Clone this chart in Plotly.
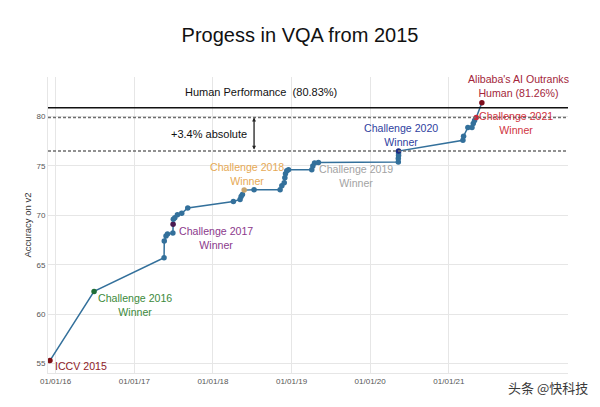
import plotly.graph_objects as go

# ---- data ----
dates = [
    "2015-12-06", "2016-06-28",
    "2017-05-19", "2017-05-20", "2017-05-28", "2017-06-04", "2017-06-29", "2017-06-30",
    "2017-07-01", "2017-07-08", "2017-07-20", "2017-08-09", "2017-09-06",
    "2018-04-06", "2018-05-07", "2018-05-12", "2018-05-18", "2018-05-26", "2018-07-11",
    "2018-11-09", "2018-11-17", "2018-11-28", "2018-12-01", "2018-12-04", "2018-12-10",
    "2018-12-18", "2019-04-05", "2019-04-10", "2019-04-18", "2019-05-06",
    "2020-05-11", "2020-05-11", "2020-05-12", "2020-05-12", "2020-05-12",
    "2021-03-07", "2021-03-10", "2021-03-30", "2021-04-18", "2021-04-24", "2021-04-30",
    "2021-05-08", "2021-06-03",
]
accuracy = [
    55.3, 62.3,
    65.7, 67.4, 67.9, 68.1, 68.2, 69.1,
    69.6, 69.75, 70.05, 70.2, 70.75,
    71.4, 71.6, 71.9, 72.1, 72.55, 72.6,
    72.6, 73.0, 73.3, 73.8, 74.2, 74.5,
    74.6, 74.6, 75.0, 75.3, 75.35,
    75.4, 75.75, 76.05, 76.3, 76.5,
    77.6, 78.0, 78.9, 78.9, 79.3, 79.6,
    79.9, 81.4,
]

# milestone labels: (index into the series, label text, point colour, text colour)
milestone_index = [0, 1, 7, 17, 29, 34, 41, 42]
milestone_text = [
    "ICCV 2015", "Challenge 2016<br>Winner", "Challenge 2017<br>Winner",
    "Challenge 2018<br>Winner", "Challenge 2019<br>Winner", "Challenge 2020<br>Winner",
    "Challenge 2021<br>Winner", "Alibaba's AI Outranks<br>Human (81.26%)",
]
milestone_point_color = ["#7d0f14", "#1f6e36", "#4a1a52", "#c9a46a", None, "#1b2a85", "#c8283c", "#7d0f1e"]
milestone_text_color = ["#8f2228", "#3c8a3c", "#8c3a8c", "#e6a955", "#a3a3a3", "#2f3fa0", "#d0343f", "#a3263a"]

human_performance = 80.83
human_line_level = 80.9
gap_low, gap_high = 76.5, 79.9
gap_label = "+3.4% absolute"
gap_arrow_date = "2018-07-11"

year_ticks = ["2016-01-01", "2017-01-01", "2018-01-01", "2019-01-01", "2020-01-01", "2021-01-01"]
y_ticks = [55, 60, 65, 70, 75, 80]

# ---- figure ----
FONT = "Liberation Sans, Arial, sans-serif"
line_color = "#33709b"

marker_colors = [line_color] * len(dates)
for i, c in zip(milestone_index, milestone_point_color):
    if c:
        marker_colors[i] = c

fig = go.Figure()
fig.add_trace(go.Scatter(
    x=dates, y=accuracy, mode="lines+markers",
    line=dict(color=line_color, width=1.5),
    marker=dict(color=marker_colors, size=5.5),
    showlegend=False, hoverinfo="x+y",
))

# label placement (xanchor, yanchor, xshift, yshift) per milestone
placement = [
    ("left", "middle", 3, -5),
    ("left", "top", 2, 1),
    ("left", "top", 4, 1),
    ("center", "bottom", 3, 1),
    ("left", "top", -1, 1),
    ("center", "bottom", 2, 1),
    ("left", "top", 1, 10),
    ("center", "bottom", 37, 2),
]
annotations = []
for (i, txt, tc, (xa, ya, xs, ys)) in zip(milestone_index, milestone_text, milestone_text_color, placement):
    annotations.append(dict(
        x=dates[i], y=accuracy[i], xref="x", yref="y", text=txt, showarrow=False,
        xanchor=xa, yanchor=ya, xshift=xs, yshift=ys, align="center",
        font=dict(family=FONT, size=10.6, color=tc),
    ))

annotations.append(dict(
    x=0.41, xref="paper", y=human_line_level, yref="y", yshift=16,
    text=f"Human Performance  ({human_performance:.2f}%)", showarrow=False,
    font=dict(family=FONT, size=11, color="#111"),
))
annotations.append(dict(
    x=gap_arrow_date, y=gap_high, xref="x", yref="y",
    ax=gap_arrow_date, ay=gap_low, axref="x", ayref="y",
    text="", showarrow=True, arrowhead=2, startarrowhead=2, arrowside="end+start",
    arrowsize=0.6, arrowwidth=1.3, arrowcolor="#222", standoff=0, startstandoff=0,
))
annotations.append(dict(
    x=gap_arrow_date, y=(gap_low + gap_high) / 2, xref="x", yref="y",
    text=gap_label, showarrow=False, xanchor="right", xshift=-5,
    font=dict(family=FONT, size=11, color="#111"),
))
annotations.append(dict(
    x=1.0, y=0.0, xref="paper", yref="paper", yshift=-14, xshift=22,
    text="头条 @快科技", showarrow=False, xanchor="right", yanchor="middle",
    font=dict(family="Noto Sans CJK SC", size=13, color="#3a3a3a"),
))

shapes = [
    dict(type="line", xref="paper", x0=0, x1=1, yref="y", y0=human_line_level, y1=human_line_level,
         line=dict(color="#111", width=1.5)),
    dict(type="line", xref="paper", x0=0, x1=1, yref="y", y0=gap_high, y1=gap_high,
         line=dict(color="#6e6e6e", width=1.5, dash="3px,2px")),
    dict(type="line", xref="paper", x0=0, x1=1, yref="y", y0=gap_low, y1=gap_low,
         line=dict(color="#6e6e6e", width=1.5, dash="3px,2px")),
]

fig.update_layout(
    width=600, height=407,
    margin=dict(l=48, r=32, t=77, b=34),
    paper_bgcolor="white", plot_bgcolor="white",
    title=dict(text="Progess in VQA from 2015", x=0.5, xanchor="center", y=0.915, yanchor="middle",
               font=dict(family=FONT, size=20, color="#111")),
    font=dict(family=FONT),
    annotations=annotations, shapes=shapes,
    xaxis=dict(
        range=["2015-11-27", "2022-07-08"], tickvals=year_ticks, tickformat="%m/%d/%y",
        showgrid=True, gridcolor="#e6e6e6", gridwidth=1,
        showline=True, linecolor="#e6e6e6", linewidth=1,
        ticks="", tickfont=dict(size=8, color="#555"), zeroline=False,
    ),
    yaxis=dict(
        range=[54.04, 84.0], tickvals=y_ticks,
        showgrid=True, gridcolor="#e6e6e6", gridwidth=1,
        showline=True, linecolor="#e6e6e6", linewidth=1,
        ticks="", tickfont=dict(size=8, color="#555"), zeroline=False,
        title=dict(text="Accuracy on v2", font=dict(size=9.5, color="#333"), standoff=3),
    ),
)

fig.write_html(
    "out.html",
    config={"displayModeBar": False},
    post_script="document.body.style.margin='0';document.body.style.overflow='hidden';",
)
